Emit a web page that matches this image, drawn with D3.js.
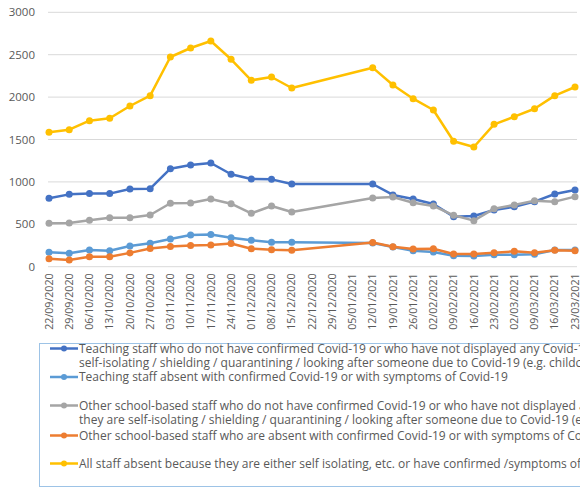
<!DOCTYPE html>
<html>
<head>
  <script src="https://d3js.org/d3.v7.min.js"></script>
  <style>
    body { margin: 0; background: #fff; }
    svg { display: block; overflow: hidden; font-family: "Open Sans", sans-serif; }
  </style>
</head>
<body>
<div id="chart"></div>
<script>
  var weeks = ['22/09/2020','29/09/2020','06/10/2020','13/10/2020','20/10/2020','27/10/2020',
    '03/11/2020','10/11/2020','17/11/2020','24/11/2020','01/12/2020','08/12/2020','15/12/2020',
    '22/12/2020','29/12/2020','05/01/2021','12/01/2021','19/01/2021','26/01/2021','02/02/2021',
    '09/02/2021','16/02/2021','23/02/2021','02/03/2021','09/03/2021','16/03/2021','23/03/2021'];
  var yTicks = [0, 500, 1000, 1500, 2000, 2500, 3000];

  // null = no data that week (holidays)
  var teachingSelfIsolating = [806, 853, 862, 862, 916, 920, 1156, 1199, 1223, 1090, 1034, 1030, 975,
    null, null, null, 975, 846, 798, 739, 590, 598, 669, 708, 767, 857, 904];
  var teachingConfirmed = [170, 158, 197, 189, 245, 277, 326, 374, 380, 342, 311, 288, 288,
    null, null, null, 280, 233, 189, 173, 128, 126, 141, 141, 146, 197, 197];
  var otherSelfIsolating = [512, 515, 547, 578, 578, 610, 748, 751, 798, 743, 630, 716, 645,
    null, null, null, 810, 822, 755, 716, 606, 543, 684, 728, 778, 767, 826];
  var otherConfirmed = [94, 79, 118, 118, 163, 214, 238, 250, 256, 274, 212, 200, 195,
    null, null, null, 285, 236, 209, 212, 150, 150, 165, 181, 165, 193, 189];
  var allStaff = [1585, 1616, 1722, 1750, 1895, 2017, 2473, 2579, 2662, 2446, 2198, 2237, 2107,
    null, null, null, 2347, 2143, 1981, 1848, 1479, 1412, 1679, 1769, 1863, 2017, 2119];

  var seriesNames = [
    ['Teaching staff who do not have confirmed Covid-19 or who have not displayed any Covid-19 symptoms but are absent because they are',
     'self-isolating / shielding / quarantining / looking after someone due to Covid-19 (e.g. childcare)'],
    ['Teaching staff absent with confirmed Covid-19 or with symptoms of Covid-19'],
    ['Other school-based staff who do not have confirmed Covid-19 or who have not displayed any Covid-19 symptoms but are absent because',
     'they are self-isolating / shielding / quarantining / looking after someone due to Covid-19 (e.g. childcare)'],
    ['Other school-based staff who are absent with confirmed Covid-19 or with symptoms of Covid-19'],
    ['All staff absent because they are either self isolating, etc. or have confirmed /symptoms of Covid-19']
  ];
  var seriesValues = [teachingSelfIsolating, teachingConfirmed, otherSelfIsolating, otherConfirmed, allStaff];
  var colours = ['#4472C4', '#5B9BD5', '#A5A5A5', '#ED7D31', '#FFC000'];

  var width = 580, height = 488;
  var svg = d3.select('#chart').append('svg')
    .attr('width', width).attr('height', height);

  var x = d3.scalePoint().domain(weeks).range([49, 575]);
  var y = d3.scaleLinear().domain([0, 3000]).range([266.7, 12.3]);

  // gridlines
  svg.append('g').selectAll('line').data(yTicks).enter().append('line')
    .attr('x1', 48).attr('x2', 577)
    .attr('y1', d => y(d)).attr('y2', d => y(d))
    .attr('stroke', '#d9d9d9').attr('stroke-width', 1);

  // y labels
  svg.append('g').selectAll('text').data(yTicks).enter().append('text')
    .attr('x', 35).attr('y', d => y(d)).attr('dy', '0.35em')
    .attr('text-anchor', 'end')
    .attr('fill', '#595959').style('font-size', '11.5px')
    .text(d => d);

  // x labels
  svg.append('g').selectAll('text').data(weeks).enter().append('text')
    .attr('transform', d => `translate(${x(d)},273.5) rotate(-90)`)
    .attr('dy', '0.35em')
    .attr('text-anchor', 'end')
    .attr('fill', '#595959').style('font-size', '10.6px')
    .text(d => d);

  var line = d3.line().x(d => x(d.w)).y(d => y(d.v));

  seriesValues.forEach(function (vals, i) {
    var pts = weeks.map((w, j) => ({w: w, v: vals[j]})).filter(d => d.v != null);
    var g = svg.append('g');
    g.append('path').datum(pts)
      .attr('d', line)
      .attr('fill', 'none')
      .attr('stroke', colours[i])
      .attr('stroke-width', 2.5)
      .attr('stroke-linejoin', 'round');
    g.selectAll('circle').data(pts).enter().append('circle')
      .attr('cx', d => x(d.w)).attr('cy', d => y(d.v))
      .attr('r', 3.5).attr('fill', colours[i]);
  });

  // legend (runs past the right edge, as in the original)
  var legend = svg.append('g');
  legend.append('rect')
    .attr('x', 39.5).attr('y', 343.5).attr('width', 600).attr('height', 143)
    .attr('fill', 'white').attr('stroke', '#9DC3E6').attr('stroke-width', 1);

  var rowY = [348.5, 377, 405.5, 435.5, 463.5];
  seriesNames.forEach(function (lines, i) {
    var ly = rowY[i];
    legend.append('line')
      .attr('x1', 50).attr('x2', 78).attr('y1', ly).attr('y2', ly)
      .attr('stroke', colours[i]).attr('stroke-width', 2.5);
    legend.append('circle')
      .attr('cx', 64).attr('cy', ly).attr('r', 3).attr('fill', colours[i]);
    lines.forEach(function (t, k) {
      legend.append('text')
        .attr('x', 79).attr('y', ly + k * 14.3).attr('dy', '0.35em')
        .attr('fill', '#595959').style('font-size', '12px')
        .text(t);
    });
  });
</script>
</body>
</html>
